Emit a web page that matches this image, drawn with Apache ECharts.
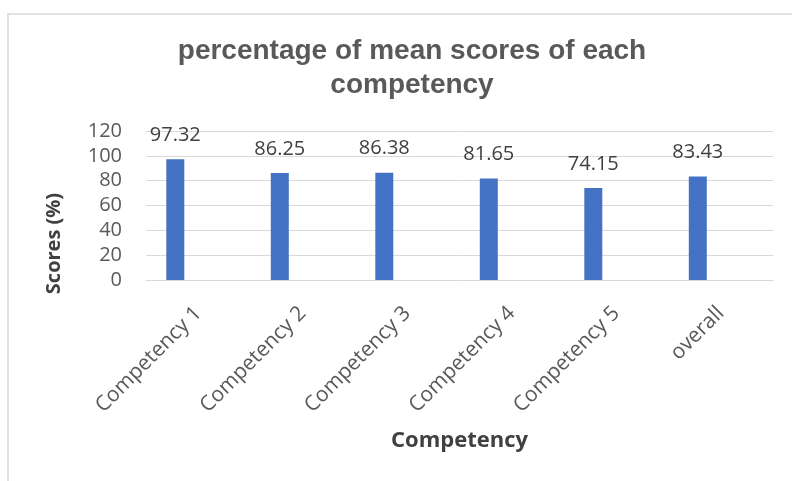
<!DOCTYPE html>
<html>
<head>
<meta charset="utf-8">
<script src="https://cdn.jsdelivr.net/npm/echarts@6/dist/echarts.min.js"></script>
<style>html,body{margin:0;padding:0;background:#fff;}#c{width:792px;height:481px;}</style>
</head>
<body>
<div id="c"></div>
<script>
const titleText = 'percentage of mean scores of each\ncompetency';
const categories = ['Competency 1', 'Competency 2', 'Competency 3', 'Competency 4', 'Competency 5', 'overall'];
const scores = [97.32, 86.25, 86.38, 81.65, 74.15, 83.43];
const yMin = 0, yMax = 120, yStep = 20;
const xName = 'Competency';
const yName = 'Scores (%)';

const chart = echarts.init(document.getElementById('c'), null, {renderer: 'canvas'});
const font = "'Open Sans', 'Noto Sans', sans-serif";
chart.setOption({
  animation: false,
  backgroundColor: '#ffffff',
  graphic: [{
    type: 'rect', silent: true, z: -1,
    shape: {x: 8, y: 14, width: 800, height: 480},
    style: {fill: 'none', stroke: '#d9d9d9', lineWidth: 1.5}
  }],
  title: {
    text: titleText,
    left: 407, top: 29, textAlign: 'center',
    textStyle: {fontFamily: "'Liberation Sans', Arial, sans-serif", fontSize: 28, fontWeight: 'bold', color: '#595959', lineHeight: 34}
  },
  grid: {left: 146, right: 19, top: 131, bottom: 201, containLabel: false},
  xAxis: {
    type: 'category', data: categories,
    axisLine: {lineStyle: {color: '#d9d9d9', width: 1}},
    axisTick: {show: false},
    axisLabel: {rotate: 45, margin: 30, color: '#595959', fontFamily: font, fontSize: 21, interval: 0},
    name: xName, nameLocation: 'middle', nameGap: 150,
    nameTextStyle: {fontFamily: font, fontSize: 22, fontWeight: 'bold', color: '#404040'}
  },
  yAxis: {
    type: 'value', min: yMin, max: yMax, interval: yStep,
    axisLine: {show: false}, axisTick: {show: false},
    splitLine: {lineStyle: {color: '#d9d9d9', width: 1}},
    axisLabel: {margin: 24, color: '#595959', fontFamily: font, fontSize: 20},
    name: yName, nameLocation: 'middle', nameRotate: 90, nameGap: 82,
    nameTextStyle: {fontFamily: font, fontSize: 20, fontWeight: 'bold', color: '#404040', padding: [0, 76, 0, 0]}
  },
  series: [{
    type: 'bar', data: scores, barWidth: 18, barGap: '155%',
    itemStyle: {color: '#4472C4'},
    label: {show: true, position: 'top', distance: 14, color: '#404040', fontFamily: font, fontSize: 20,
      formatter: p => p.value.toFixed(2)}
  }, {
    type: 'bar', data: categories.map(() => null), barWidth: 18, itemStyle: {color: '#ED7D31'}
  }]
});
</script>
</body>
</html>
